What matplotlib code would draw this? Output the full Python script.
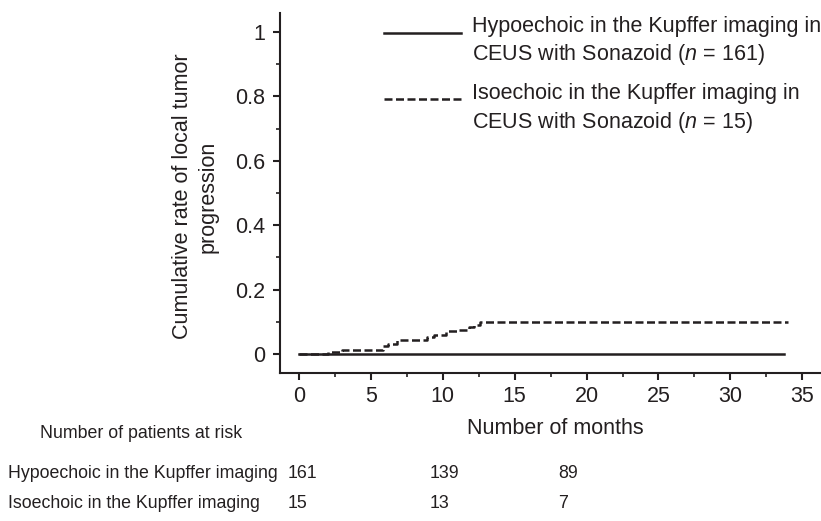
import matplotlib
matplotlib.use("Agg")
import matplotlib.pyplot as plt
from matplotlib.ticker import MultipleLocator, FixedLocator

plt.rcParams['font.family'] = ['Liberation Sans', 'DejaVu Sans']
plt.rcParams['mathtext.fontset'] = 'custom'
plt.rcParams['mathtext.it'] = 'Liberation Sans:italic'
plt.rcParams['mathtext.rm'] = 'Liberation Sans'

INK = '#231f20'
FS = 15.5      # axis / legend text
FS_RISK = 12.75

# cumulative local tumor progression (step curves)
hypo_months = [0, 33.7]
hypo_rate = [0.0, 0.0]
iso_months = [0, 2.0, 3.0, 5.85, 6.2, 6.8, 8.9, 9.4, 10.2, 11.1, 11.8, 12.2, 12.6, 34.0]
iso_rate = [0.0, 0.006, 0.013, 0.025, 0.032, 0.044, 0.054, 0.059, 0.071, 0.075,
            0.084, 0.091, 0.098, 0.098]

hypo_label = "Hypoechoic in the Kupffer imaging in\nCEUS with Sonazoid ($n$ = 161)"
iso_label = "Isoechoic in the Kupffer imaging in\nCEUS with Sonazoid ($n$ = 15)"

# number at risk table
risk_groups = ["Hypoechoic in the Kupffer imaging", "Isoechoic in the Kupffer imaging"]
risk_hypo = [161, 139, 89]
risk_iso = [15, 13, 7]

W, H = 821, 521
fig = plt.figure(figsize=(W / 100, H / 100), dpi=100)
ax = fig.add_axes([280 / W, 1 - 373 / H, 541 / W, 360 / H])

ax.step(hypo_months, hypo_rate, where='post', color=INK, lw=1.8)
ax.step(iso_months, iso_rate, where='post', color=INK, lw=1.8, ls=(0, (3.2, 1.4)))

ax.set_xlim(-1.32, 36.3)
ax.set_ylim(-0.059, 1.059)
ax.xaxis.set_major_locator(MultipleLocator(5))
ax.xaxis.set_minor_locator(FixedLocator([2.5 + 5 * i for i in range(7)]))
ax.yaxis.set_minor_locator(FixedLocator([0.1, 0.3, 0.5, 0.7, 0.9]))
ax.set_yticks([0, 0.2, 0.4, 0.6, 0.8, 1.0])
ax.set_yticklabels(['0', '0.2', '0.4', '0.6', '0.8', '1'])

for s in ['top', 'right']:
    ax.spines[s].set_visible(False)
for s in ['left', 'bottom']:
    ax.spines[s].set_linewidth(1.5)
    ax.spines[s].set_color(INK)

ax.tick_params(which='major', length=5, width=1.5, color=INK, labelsize=FS,
               labelcolor=INK)
ax.tick_params(axis='y', which='major', pad=5.5)
ax.tick_params(axis='x', which='major', pad=4.3)
ax.tick_params(which='minor', length=3, width=1.2, color=INK)

ax.set_xlabel("Number of months", fontsize=FS, color=INK, va='center')
ax.xaxis.set_label_coords(0.508, -0.153)
ax.set_ylabel("Cumulative rate of local tumor\nprogression", fontsize=FS,
              color=INK, va='center', ha='center', linespacing=1.3)
ax.yaxis.set_label_coords(-0.157, 0.49)

# legend drawn by hand so the sample line sits on the first text line
ax.plot([0.192, 0.335], [0.944, 0.944], transform=ax.transAxes, color=INK, lw=1.8)
ax.text(0.355, 0.921, hypo_label, transform=ax.transAxes, fontsize=FS, color=INK,
        va='center', ha='left', linespacing=1.3)
ax.plot([0.192, 0.335], [0.761, 0.761], transform=ax.transAxes, color=INK, lw=1.8,
        ls=(0, (3.2, 1.4)))
ax.text(0.355, 0.733, iso_label, transform=ax.transAxes, fontsize=FS, color=INK,
        va='center', ha='left', linespacing=1.3)

# number at risk table
fig.text(40 / W, 1 - 434 / H, "Number of patients at risk", fontsize=FS_RISK,
         color=INK, va='center', ha='left')
col_x = [288, 430, 558]
for row, (name, vals) in enumerate(zip(risk_groups, [risk_hypo, risk_iso])):
    y = 1 - (473 + 30 * row) / H
    fig.text(8 / W, y, name, fontsize=FS_RISK, color=INK, va='center', ha='left')
    for cx, v in zip(col_x, vals):
        fig.text(cx / W, y, str(v), fontsize=FS_RISK, color=INK, va='center', ha='left')

fig.savefig('out.png', dpi=100)
